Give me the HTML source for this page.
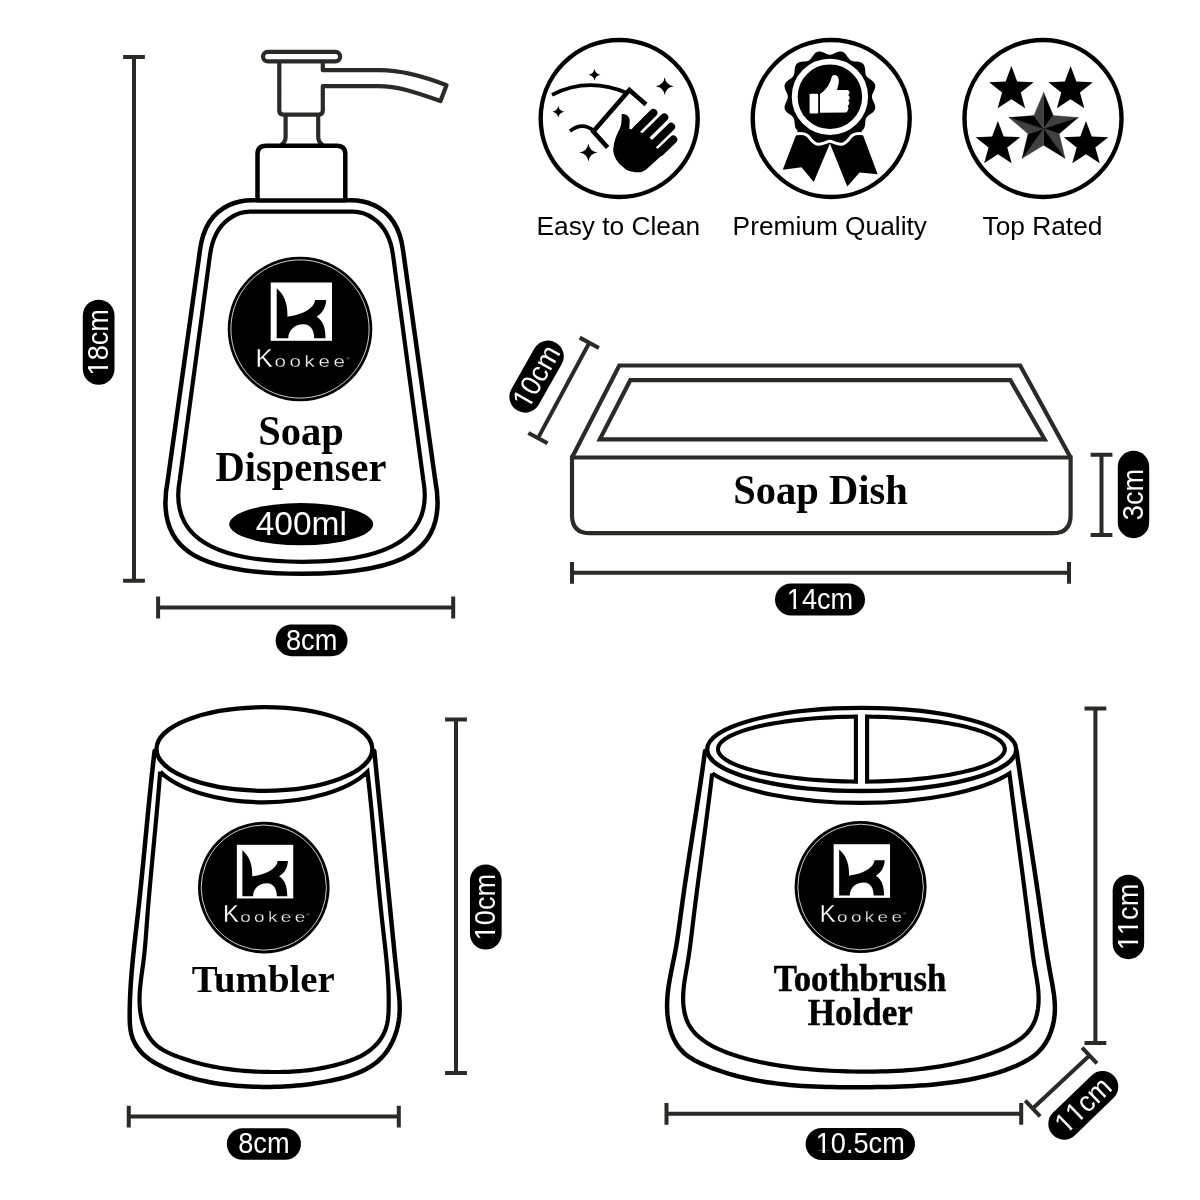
<!DOCTYPE html>
<html lang="en"><head><meta charset="utf-8"><title>Kookee bathroom set dimensions</title>
<style>html,body{margin:0;padding:0;background:#fff}body{width:1200px;height:1200px;overflow:hidden}svg{display:block;will-change:transform}text{font-variant-ligatures:none;font-feature-settings:"liga" 0,"clig" 0,"calt" 0,"dlig" 0}</style>
</head><body>
<svg width="1200" height="1200" viewBox="0 0 1200 1200">
<rect width="1200" height="1200" fill="#fff"/>
<g fill="none" stroke="#2b2a29" stroke-width="4.2" stroke-linejoin="round">
<rect x="263" y="51.8" width="77.2" height="9.6" rx="4.8"/>
<path d="M279.3 61.5 V110.5 Q279.3 114.6 283.4 114.6 H318.6 Q322.8 114.6 322.8 110.5 V86.2 H378 C398 86.2,415 92,440.5 101 L446.5 85.3 C420 75,400 70.2,380 70.2 H322.8 V61.5"/>
<path d="M285.6 114.6 V137 Q285.6 142 281 145"/>
<path d="M318.2 114.6 V137 Q318.2 142 322.8 145"/>
<path d="M257.5 200 V154.2 Q257.5 145.7 266 145.7 H336.8 Q345.3 145.7 345.3 154.2 V200" stroke="#000" stroke-width="4.5"/>
</g>
<path d="M301.5 200.4L257 200.4C255.5 200.4 207.2 194.5 200 250L167.8 480C154.17 549.27 196.6 573.7 301.5 573.7C406.4 573.7 448.83 549.27 435.2 480L403 250C395.8 194.5 347.5 200.4 346 200.4L301.5 200.4Z" fill="none" stroke="#000" stroke-width="4.5"/>
<path d="M301.5 211.6L250 211.6C243.5 211.6 215.2 215.3 210 255L179.7 480C173.14 516.28 183.55 561.8 301.5 561.8C419.45 561.8 429.86 516.28 423.3 480L393 255C387.8 215.3 359.5 211.6 353 211.6L301.5 211.6Z" fill="none" stroke="#000" stroke-width="4.2"/>
<g transform="translate(300 329)">
<circle r="72.3" fill="#000"/>
<circle r="69.1" fill="none" stroke="#fff" stroke-width="0.8"/>
<g transform="scale(1)">
<rect x="-29.3" y="-46.5" width="61.3" height="58.3" fill="#fff"/>
<path d="M-23.3 -40.7 L-23.3 9.3 L-11.7 9.3 C-11.7 1,-5 -4.8,3.3 -4.8 C11.7 -4.8,14.2 2.7,14.2 9.3 L25.5 9.3 C25.5 -0.7,23.3 -8.2,16.7 -12.3 C23.3 -16.5,25.8 -22.3,26.2 -29 L15 -29 C14.5 -20.5,1.5 -14,-12.5 -12.3 C-12.5 -24,-14.5 -33,-23.3 -40.7 Z" fill="#000"/>
<text transform="translate(-44.4 37.8) scale(1.32 1)" font-family="'Liberation Sans', Arial, sans-serif" fill="#fff" stroke="#000" stroke-width="0.3" style="paint-order:fill stroke"><tspan font-size="26" textLength="13.14" lengthAdjust="spacingAndGlyphs">K</tspan><tspan x="14.24" font-size="15.6" letter-spacing="2.75">ookee</tspan><tspan x="68.6" dy="-7.3" font-size="3.4" letter-spacing="0" fill="#bbb" stroke="none">®</tspan></text>
</g></g>
<g font-family="'Liberation Serif', 'Times New Roman', serif" font-weight="bold" font-size="40.5" text-anchor="middle" fill="#000">
<text transform="translate(301 445.2) scale(1 1.05)">Soap</text><text transform="translate(301 480.6) scale(1 1.05)">Dispenser</text>
<text transform="translate(820.5 504.2) scale(1 1.05)">Soap Dish</text>
<text x="263.2" y="991.8" font-size="38.8">Tumbler</text>
<text x="860" y="991.3" font-size="37" textLength="172.5" lengthAdjust="spacingAndGlyphs" stroke="#000" stroke-width="0.5">Toothbrush</text>
<text x="860.3" y="1024.8" font-size="37" textLength="105" lengthAdjust="spacingAndGlyphs" stroke="#000" stroke-width="0.5">Holder</text>
</g>
<ellipse cx="301.2" cy="524.2" rx="72" ry="21.1" fill="#000"/>
<text x="301.3" y="535.3" font-family="'Liberation Sans', Arial, sans-serif" font-size="33.5" fill="#fff" text-anchor="middle">400ml</text>
<path d="M134 56.9L134 580.8M144.9 56.9L123.1 56.9M144.9 580.8L123.1 580.8" fill="none" stroke="#2b2a29" stroke-width="4"/>
<g transform="translate(98.65 342.25) rotate(-90)">
<rect x="-42.55" y="-15.85" width="85.1" height="31.7" rx="15.85" fill="#000"/>
<g transform="scale(0.95 1)">
<text x="-34.97" y="9.3" font-family="'Liberation Sans', Arial, sans-serif" font-size="28.6" fill="#fff" style="font-kerning:none">18cm</text>
<rect x="-33.39" y="6.66" width="5.46" height="3.34" fill="#000"/>
<rect x="-25.1" y="6.66" width="5.24" height="3.34" fill="#000"/>
</g></g>
<path d="M158.1 607.5L453.2 607.5M158.1 596.6L158.1 618.4M453.2 596.6L453.2 618.4" fill="none" stroke="#2b2a29" stroke-width="4"/>
<g transform="translate(311.6 640.4) rotate(0)">
<rect x="-35.95" y="-15.85" width="71.9" height="31.7" rx="15.85" fill="#000"/>
<g transform="scale(0.95 1)">
<text x="-27.01" y="9.3" font-family="'Liberation Sans', Arial, sans-serif" font-size="28.6" fill="#fff" style="font-kerning:none">8cm</text>
</g></g>
<g fill="none" stroke="#2b2a29" stroke-width="4.2" stroke-linejoin="miter">
<path d="M572 457.5 L619.3 365.5 H1020.2 L1070.6 457.5"/>
<path d="M630.3 380.2 H1010.4 L1044.6 439.3 H599.8 Z"/>
<path d="M572 457.5 H1070.6 V515.2 Q1070.6 533.2 1052.6 533.2 H590 Q572 533.2 572 515.2 Z"/>
</g>
<path d="M589.3 342.8L538 438.1M598.9 347.97L579.7 337.63M547.6 443.27L528.4 432.93" fill="none" stroke="#2b2a29" stroke-width="4"/>
<g transform="translate(536.6 376.6) rotate(-60.5)">
<rect x="-39" y="-15.75" width="78" height="31.5" rx="15.75" fill="#000"/>
<g transform="scale(0.95 1)">
<text x="-34.97" y="9.3" font-family="'Liberation Sans', Arial, sans-serif" font-size="28.6" fill="#fff" style="font-kerning:none">10cm</text>
<rect x="-33.39" y="6.66" width="5.46" height="3.34" fill="#000"/>
<rect x="-25.1" y="6.66" width="5.24" height="3.34" fill="#000"/>
</g></g>
<path d="M1101.5 454.8L1101.5 535M1112.4 454.8L1090.6 454.8M1112.4 535L1090.6 535" fill="none" stroke="#2b2a29" stroke-width="4"/>
<g transform="translate(1133.5 494.5) rotate(-90)">
<rect x="-43.65" y="-15.7" width="87.3" height="31.4" rx="15.7" fill="#000"/>
<g transform="scale(0.95 1)">
<text x="-27.01" y="9.3" font-family="'Liberation Sans', Arial, sans-serif" font-size="28.6" fill="#fff" style="font-kerning:none">3cm</text>
</g></g>
<path d="M572 572.8L1069 572.8M572 561.9L572 583.7M1069 561.9L1069 583.7" fill="none" stroke="#2b2a29" stroke-width="4"/>
<g transform="translate(820 599.5) rotate(0)">
<rect x="-45" y="-16" width="90" height="32" rx="16" fill="#000"/>
<g transform="scale(0.95 1)">
<text x="-34.97" y="9.3" font-family="'Liberation Sans', Arial, sans-serif" font-size="28.6" fill="#fff" style="font-kerning:none">14cm</text>
<rect x="-33.39" y="6.66" width="5.46" height="3.34" fill="#000"/>
<rect x="-25.1" y="6.66" width="5.24" height="3.34" fill="#000"/>
</g></g>
<ellipse cx="264.4" cy="749" rx="107.9" ry="41.8" fill="none" stroke="#000" stroke-width="4.3"/>
<path d="M154.57 751.02L154.06 755.37L153.56 759.71L153.07 764.06L152.59 768.41L152.11 772.76L151.64 777.11L151.18 781.46L150.73 785.81L150.28 790.17L149.83 794.52L149.39 798.87L148.96 803.23L148.53 807.58L148.1 811.94L147.67 816.3L147.25 820.65L146.83 825.01L146.41 829.37L145.99 833.72L145.57 838.08L145.15 842.44L144.74 846.79L144.32 851.15L143.89 855.51L143.47 859.86L143.05 864.22L142.62 868.58L142.19 872.93L141.75 877.29L141.31 881.64L140.87 886L140.42 890.35L139.96 894.7L139.5 899.05L139.04 903.4L138.56 907.75L138.08 912.1L137.59 916.45L137.09 920.8L136.6 925.14L136.1 929.49L135.6 933.84L135.11 938.18L134.63 942.53L134.15 946.88L133.68 951.23L133.23 955.58L132.8 959.94L132.38 964.29L131.99 968.65L131.61 973.01L131.27 977.37L130.95 981.74L130.66 986.11L130.4 990.48L130.18 994.86L130 999.24L129.85 1003.63L129.75 1008.02L129.69 1012.42L129.68 1016.82L129.75 1021.22L129.99 1025.59L130.49 1029.9L131.34 1034.14L132.61 1038.28L134.37 1042.29L136.57 1046.12L139.15 1049.71L142.05 1053.03L145.24 1056.04L148.65 1058.75L152.26 1061.23L156.02 1063.49L159.89 1065.58L163.83 1067.53L167.82 1069.37L171.86 1071.1L175.93 1072.73L180.05 1074.24L184.21 1075.66L188.4 1076.98L192.62 1078.2L196.87 1079.32L201.15 1080.36L205.45 1081.31L209.77 1082.17L214.11 1082.95L218.46 1083.66L222.83 1084.28L227.2 1084.83L231.59 1085.31L235.97 1085.72L240.36 1086.07L244.75 1086.35L249.14 1086.58L253.51 1086.74L257.88 1086.86L262.24 1086.92L266.58 1086.93L270.91 1086.89L275.22 1086.8L279.53 1086.67L283.83 1086.48L288.13 1086.23L292.42 1085.93L296.72 1085.57L301.02 1085.16L305.33 1084.68L309.66 1084.15L313.99 1083.55L318.34 1082.88L322.71 1082.15L327.1 1081.36L331.51 1080.49L335.93 1079.54L340.34 1078.5L344.72 1077.35L349.05 1076.07L353.31 1074.66L357.48 1073.09L361.54 1071.36L365.48 1069.44L369.26 1067.33L372.88 1065L376.31 1062.45L379.54 1059.67L382.54 1056.62L385.3 1053.34L387.83 1049.82L390.12 1046.12L392.16 1042.24L393.97 1038.21L395.53 1034.06L396.85 1029.81L397.92 1025.48L398.74 1021.11L399.31 1016.72L399.63 1012.33L399.72 1007.94L399.62 1003.57L399.37 999.21L399 994.84L398.55 990.49L398.06 986.13L397.58 981.78L397.09 977.43L396.62 973.07L396.16 968.72L395.7 964.36L395.24 960.01L394.79 955.66L394.35 951.3L393.91 946.95L393.48 942.59L393.04 938.24L392.61 933.88L392.18 929.53L391.76 925.18L391.33 920.82L390.9 916.47L390.48 912.11L390.05 907.76L389.62 903.4L389.18 899.05L388.75 894.7L388.32 890.34L387.88 885.99L387.45 881.63L387.01 877.28L386.57 872.92L386.13 868.57L385.7 864.22L385.26 859.86L384.82 855.51L384.38 851.15L383.94 846.8L383.49 842.44L383.05 838.09L382.61 833.73L382.17 829.38L381.73 825.02L381.29 820.67L380.85 816.32L380.41 811.96L379.97 807.61L379.53 803.25L379.09 798.9L378.65 794.54L378.22 790.19L377.78 785.83L377.34 781.48L376.91 777.13L376.47 772.77L376.04 768.42L375.61 764.06L375.18 759.71L374.75 755.35L374.32 751" fill="none" stroke="#000" stroke-width="4.5" stroke-linejoin="round" stroke-linecap="round"/>
<path d="M160.18 771.71L159.88 775.64L159.57 779.57L159.25 783.5L158.93 787.43L158.6 791.36L158.27 795.3L157.93 799.23L157.58 803.16L157.23 807.09L156.88 811.03L156.52 814.96L156.16 818.89L155.8 822.83L155.43 826.76L155.07 830.7L154.7 834.63L154.33 838.57L153.96 842.5L153.58 846.44L153.21 850.37L152.84 854.3L152.47 858.24L152.1 862.17L151.73 866.11L151.37 870.04L151.01 873.98L150.65 877.91L150.29 881.84L149.94 885.78L149.59 889.71L149.25 893.64L148.91 897.58L148.58 901.51L148.25 905.44L147.93 909.37L147.61 913.3L147.31 917.23L147.01 921.16L146.72 925.09L146.43 929.02L146.14 932.95L145.84 936.88L145.53 940.81L145.2 944.75L144.84 948.68L144.46 952.61L144.03 956.54L143.56 960.48L143.05 964.42L142.51 968.36L141.96 972.3L141.42 976.24L140.92 980.18L140.47 984.13L140.08 988.08L139.78 992.03L139.6 995.98L139.53 999.93L139.62 1003.89L139.87 1007.84L140.3 1011.79L140.93 1015.72L141.76 1019.6L142.81 1023.4L144.08 1027.1L145.59 1030.68L147.35 1034.11L149.37 1037.36L151.65 1040.41L154.21 1043.24L157.06 1045.82L160.18 1048.14L163.54 1050.23L167.09 1052.13L170.78 1053.85L174.57 1055.43L178.4 1056.9L182.25 1058.28L186.1 1059.58L189.95 1060.8L193.8 1061.94L197.66 1063.01L201.51 1064.01L205.37 1064.93L209.23 1065.79L213.1 1066.59L216.96 1067.31L220.84 1067.98L224.71 1068.59L228.59 1069.14L232.47 1069.64L236.36 1070.08L240.26 1070.47L244.16 1070.81L248.06 1071.11L251.97 1071.36L255.89 1071.57L259.82 1071.73L263.75 1071.86L267.69 1071.96L271.63 1072.01L275.58 1072.02L279.53 1071.99L283.48 1071.92L287.44 1071.79L291.39 1071.61L295.35 1071.37L299.29 1071.08L303.24 1070.72L307.18 1070.31L311.11 1069.82L315.03 1069.27L318.95 1068.64L322.85 1067.94L326.74 1067.17L330.62 1066.31L334.48 1065.37L338.32 1064.35L342.15 1063.24L345.96 1062.03L349.74 1060.73L353.48 1059.31L357.16 1057.75L360.74 1056.03L364.21 1054.12L367.55 1052.01L370.74 1049.67L373.75 1047.08L376.55 1044.24L379.12 1041.18L381.41 1037.91L383.39 1034.47L385.03 1030.89L386.3 1027.2L387.23 1023.4L387.87 1019.54L388.29 1015.62L388.53 1011.66L388.65 1007.69L388.71 1003.72L388.72 999.76L388.68 995.8L388.58 991.84L388.45 987.89L388.27 983.94L388.05 979.99L387.8 976.05L387.51 972.11L387.19 968.18L386.85 964.25L386.49 960.31L386.1 956.38L385.69 952.46L385.28 948.53L384.84 944.6L384.4 940.68L383.96 936.75L383.51 932.83L383.06 928.91L382.62 924.98L382.18 921.06L381.75 917.13L381.33 913.2L380.92 909.28L380.51 905.35L380.11 901.42L379.72 897.49L379.33 893.56L378.94 889.63L378.57 885.7L378.19 881.77L377.82 877.83L377.45 873.9L377.09 869.97L376.72 866.04L376.36 862.11L376 858.17L375.64 854.24L375.28 850.31L374.92 846.38L374.56 842.44L374.2 838.51L373.84 834.58L373.47 830.65L373.1 826.71L372.73 822.78L372.36 818.85L371.98 814.92L371.6 810.99L371.21 807.06L370.82 803.13L370.42 799.2L370.02 795.27L369.6 791.34L369.18 787.42L368.76 783.49L368.32 779.57L367.88 775.64L367.43 771.72 A114.6 53.45 0 0 1 160.3 771.7" fill="none" stroke="#000" stroke-width="4.2" stroke-linejoin="miter"/>
<g transform="translate(263.8 887.6)">
<circle r="65.8" fill="#000"/>
<circle r="62.6" fill="none" stroke="#fff" stroke-width="0.8"/>
<g transform="scale(0.92)">
<rect x="-29.3" y="-46.5" width="61.3" height="58.3" fill="#fff"/>
<path d="M-23.3 -40.7 L-23.3 9.3 L-11.7 9.3 C-11.7 1,-5 -4.8,3.3 -4.8 C11.7 -4.8,14.2 2.7,14.2 9.3 L25.5 9.3 C25.5 -0.7,23.3 -8.2,16.7 -12.3 C23.3 -16.5,25.8 -22.3,26.2 -29 L15 -29 C14.5 -20.5,1.5 -14,-12.5 -12.3 C-12.5 -24,-14.5 -33,-23.3 -40.7 Z" fill="#000"/>
<text transform="translate(-44.4 37.8) scale(1.32 1)" font-family="'Liberation Sans', Arial, sans-serif" fill="#fff" stroke="#000" stroke-width="0.3" style="paint-order:fill stroke"><tspan font-size="26" textLength="13.14" lengthAdjust="spacingAndGlyphs">K</tspan><tspan x="14.24" font-size="15.6" letter-spacing="2.75">ookee</tspan><tspan x="68.6" dy="-7.3" font-size="3.4" letter-spacing="0" fill="#bbb" stroke="none">®</tspan></text>
</g></g>
<path d="M456 719.5L456 1073M466.9 719.5L445.1 719.5M466.9 1073L445.1 1073" fill="none" stroke="#2b2a29" stroke-width="4"/>
<g transform="translate(485.8 907.05) rotate(-90)">
<rect x="-42.55" y="-15.85" width="85.1" height="31.7" rx="15.85" fill="#000"/>
<g transform="scale(0.95 1)">
<text x="-34.97" y="9.3" font-family="'Liberation Sans', Arial, sans-serif" font-size="28.6" fill="#fff" style="font-kerning:none">10cm</text>
<rect x="-33.39" y="6.66" width="5.46" height="3.34" fill="#000"/>
<rect x="-25.1" y="6.66" width="5.24" height="3.34" fill="#000"/>
</g></g>
<path d="M128.75 1116.6L398.8 1116.6M128.75 1105.7L128.75 1127.5M398.8 1105.7L398.8 1127.5" fill="none" stroke="#2b2a29" stroke-width="4"/>
<g transform="translate(263.9 1144) rotate(0)">
<rect x="-37.05" y="-15.8" width="74.1" height="31.6" rx="15.8" fill="#000"/>
<g transform="scale(0.95 1)">
<text x="-27.01" y="9.3" font-family="'Liberation Sans', Arial, sans-serif" font-size="28.6" fill="#fff" style="font-kerning:none">8cm</text>
</g></g>
<ellipse cx="861.7" cy="749.4" rx="154.5" ry="41.6" fill="none" stroke="#000" stroke-width="4.3"/>
<path d="M855.9 716.62L849.63 716.71L843.39 716.86L837.18 717.07L831.02 717.34L824.91 717.67L818.88 718.06L812.92 718.51L807.06 719.02L801.31 719.59L795.66 720.22L790.15 720.9L784.77 721.63L779.54 722.42L774.46 723.25L769.56 724.14L764.82 725.08L760.28 726.06L755.92 727.08L751.77 728.15L747.83 729.26L744.11 730.4L740.61 731.58L737.34 732.8L734.31 734.05L731.53 735.32L728.99 736.62L726.71 737.95L724.68 739.29L722.92 740.66L721.42 742.04L720.19 743.44L719.24 744.84L718.55 746.26L718.14 747.68L718 749.1L718.14 750.52L718.55 751.94L719.24 753.36L720.19 754.76L721.42 756.16L722.92 757.54L724.68 758.91L726.71 760.25L728.99 761.58L731.53 762.88L734.31 764.15L737.34 765.4L740.61 766.62L744.11 767.8L747.83 768.94L751.77 770.05L755.92 771.12L760.28 772.14L764.82 773.12L769.56 774.06L774.46 774.95L779.54 775.78L784.77 776.57L790.15 777.3L795.66 777.98L801.31 778.61L807.06 779.18L812.92 779.69L818.88 780.14L824.91 780.53L831.02 780.86L837.18 781.13L843.39 781.34L849.63 781.49L855.9 781.58Z M867.1 716.63L873.36 716.71L879.6 716.86L885.8 717.07L891.96 717.35L898.05 717.68L904.08 718.07L910.03 718.53L915.88 719.04L921.63 719.61L927.26 720.23L932.77 720.91L938.14 721.65L943.36 722.43L948.43 723.27L953.33 724.16L958.06 725.09L962.6 726.07L966.94 727.1L971.09 728.17L975.02 729.27L978.74 730.42L982.23 731.6L985.49 732.81L988.52 734.06L991.3 735.33L993.83 736.63L996.11 737.96L998.13 739.3L999.89 740.67L1001.38 742.05L1002.61 743.44L1003.57 744.85L1004.25 746.26L1004.66 747.68L1004.8 749.1L1004.66 750.52L1004.25 751.94L1003.57 753.35L1002.61 754.76L1001.38 756.15L999.89 757.53L998.13 758.9L996.11 760.24L993.83 761.57L991.3 762.87L988.52 764.14L985.49 765.39L982.23 766.6L978.74 767.78L975.02 768.93L971.09 770.03L966.94 771.1L962.6 772.13L958.06 773.11L953.33 774.04L948.43 774.93L943.36 775.77L938.14 776.55L932.77 777.29L927.26 777.97L921.63 778.59L915.88 779.16L910.03 779.67L904.08 780.13L898.05 780.52L891.96 780.85L885.8 781.13L879.6 781.34L873.36 781.49L867.1 781.57Z" fill="none" stroke="#000" stroke-width="4.1" stroke-linejoin="miter"/>
<path d="M705.05 750.99L704.22 757.11L703.36 763.23L702.5 769.35L701.61 775.47L700.71 781.59L699.8 787.71L698.88 793.82L697.95 799.94L697.01 806.05L696.07 812.17L695.12 818.28L694.17 824.39L693.21 830.51L692.26 836.62L691.31 842.73L690.36 848.85L689.41 854.96L688.48 861.08L687.55 867.19L686.62 873.31L685.71 879.43L684.81 885.54L683.93 891.66L683.06 897.78L682.21 903.91L681.37 910.03L680.55 916.15L679.75 922.28L678.92 928.41L678.06 934.53L677.13 940.64L676.13 946.75L675.01 952.85L673.8 958.93L672.54 965.02L671.3 971.11L670.12 977.2L669.06 983.3L668.17 989.42L667.51 995.57L667.13 1001.74L667.08 1007.94L667.42 1014.18L668.19 1020.42L669.43 1026.58L671.18 1032.56L673.46 1038.27L676.32 1043.62L679.79 1048.52L683.9 1052.89L688.64 1056.67L693.89 1059.96L699.49 1062.84L705.32 1065.41L711.22 1067.77L717.15 1069.95L723.11 1071.96L729.08 1073.81L735.07 1075.51L741.08 1077.06L747.11 1078.47L753.16 1079.75L759.22 1080.89L765.3 1081.92L771.4 1082.83L777.5 1083.63L783.62 1084.34L789.75 1084.94L795.89 1085.46L802.05 1085.9L808.21 1086.26L814.38 1086.55L820.56 1086.78L826.74 1086.95L832.93 1087.08L839.12 1087.16L845.32 1087.21L851.52 1087.23L857.73 1087.22L863.93 1087.2L870.13 1087.16L876.34 1087.1L882.54 1087.02L888.74 1086.9L894.94 1086.74L901.13 1086.53L907.31 1086.28L913.49 1085.97L919.66 1085.6L925.82 1085.15L931.97 1084.64L938.11 1084.04L944.24 1083.36L950.35 1082.59L956.45 1081.72L962.54 1080.75L968.61 1079.67L974.66 1078.47L980.69 1077.15L986.7 1075.7L992.69 1074.09L998.65 1072.31L1004.57 1070.34L1010.46 1068.16L1016.31 1065.75L1022.06 1063.08L1027.6 1060.07L1032.8 1056.65L1037.55 1052.76L1041.73 1048.33L1045.32 1043.41L1048.32 1038.08L1050.74 1032.41L1052.6 1026.49L1053.91 1020.4L1054.68 1014.22L1054.92 1008.03L1054.69 1001.85L1054.09 995.7L1053.22 989.56L1052.16 983.42L1051.02 977.3L1049.89 971.18L1048.81 965.06L1047.77 958.94L1046.76 952.82L1045.79 946.71L1044.85 940.59L1043.93 934.47L1043.02 928.36L1042.13 922.25L1041.25 916.13L1040.37 910.02L1039.49 903.91L1038.6 897.79L1037.71 891.68L1036.81 885.56L1035.9 879.44L1034.99 873.33L1034.07 867.21L1033.14 861.1L1032.21 854.98L1031.28 848.86L1030.35 842.74L1029.41 836.63L1028.48 830.51L1027.54 824.39L1026.6 818.28L1025.67 812.16L1024.74 806.04L1023.81 799.93L1022.88 793.81L1021.96 787.69L1021.05 781.58L1020.14 775.46L1019.23 769.35L1018.34 763.23L1017.45 757.12L1016.57 751" fill="none" stroke="#000" stroke-width="4.5" stroke-linejoin="round" stroke-linecap="round"/>
<path d="M712.22 773.61L711.56 779.06L710.88 784.52L710.2 789.97L709.51 795.43L708.81 800.89L708.11 806.35L707.4 811.81L706.68 817.26L705.96 822.72L705.24 828.18L704.52 833.64L703.79 839.11L703.06 844.57L702.33 850.03L701.61 855.49L700.88 860.95L700.16 866.41L699.44 871.87L698.72 877.33L698 882.79L697.3 888.25L696.59 893.71L695.89 899.17L695.21 904.62L694.52 910.08L693.85 915.54L693.19 920.99L692.53 926.45L691.88 931.9L691.23 937.35L690.55 942.81L689.83 948.26L689.07 953.71L688.24 959.17L687.33 964.63L686.37 970.09L685.42 975.55L684.54 981.03L683.82 986.52L683.31 992.04L683.09 997.57L683.23 1003.13L683.78 1008.7L684.82 1014.17L686.41 1019.41L688.6 1024.33L691.42 1028.83L694.79 1032.96L698.64 1036.71L702.91 1040.13L707.52 1043.23L712.4 1046.04L717.47 1048.58L722.67 1050.88L727.93 1052.96L733.2 1054.84L738.48 1056.55L743.77 1058.09L749.07 1059.5L754.4 1060.78L759.74 1061.96L765.09 1063.06L770.47 1064.08L775.87 1065.02L781.28 1065.88L786.71 1066.68L792.15 1067.41L797.61 1068.06L803.07 1068.66L808.55 1069.19L814.04 1069.66L819.53 1070.07L825.03 1070.43L830.54 1070.74L836.05 1070.99L841.57 1071.2L847.09 1071.36L852.61 1071.48L858.13 1071.56L863.64 1071.6L869.16 1071.6L874.67 1071.55L880.18 1071.46L885.69 1071.32L891.19 1071.13L896.68 1070.88L902.17 1070.57L907.65 1070.19L913.12 1069.74L918.58 1069.22L924.04 1068.63L929.49 1067.95L934.92 1067.2L940.35 1066.35L945.76 1065.42L951.16 1064.39L956.55 1063.26L961.92 1062.03L967.28 1060.69L972.62 1059.25L977.95 1057.69L983.27 1056.01L988.56 1054.22L993.84 1052.3L999.09 1050.25L1004.29 1048.05L1009.34 1045.64L1014.2 1043L1018.79 1040.07L1023.04 1036.82L1026.88 1033.21L1030.25 1029.18L1033.07 1024.71L1035.28 1019.75L1036.89 1014.4L1037.96 1008.8L1038.52 1003.11L1038.63 997.46L1038.38 991.88L1037.83 986.36L1037.07 980.88L1036.17 975.43L1035.21 970L1034.27 964.58L1033.43 959.16L1032.69 953.74L1031.99 948.3L1031.29 942.86L1030.6 937.41L1029.92 931.95L1029.23 926.48L1028.54 921.02L1027.85 915.55L1027.16 910.08L1026.46 904.62L1025.76 899.15L1025.06 893.69L1024.35 888.23L1023.64 882.77L1022.93 877.31L1022.22 871.85L1021.5 866.39L1020.79 860.93L1020.07 855.48L1019.35 850.02L1018.64 844.56L1017.92 839.11L1017.2 833.65L1016.49 828.19L1015.77 822.74L1015.06 817.28L1014.34 811.82L1013.63 806.36L1012.93 800.9L1012.22 795.44L1011.52 789.98L1010.82 784.52L1010.12 779.06L1009.43 773.59 A166 53 0 0 1 712.3 773.6" fill="none" stroke="#000" stroke-width="4.2" stroke-linejoin="miter"/>
<g transform="translate(860.6 887)">
<circle r="66" fill="#000"/>
<circle r="62.8" fill="none" stroke="#fff" stroke-width="0.8"/>
<g transform="scale(0.92)">
<rect x="-29.3" y="-46.5" width="61.3" height="58.3" fill="#fff"/>
<path d="M-23.3 -40.7 L-23.3 9.3 L-11.7 9.3 C-11.7 1,-5 -4.8,3.3 -4.8 C11.7 -4.8,14.2 2.7,14.2 9.3 L25.5 9.3 C25.5 -0.7,23.3 -8.2,16.7 -12.3 C23.3 -16.5,25.8 -22.3,26.2 -29 L15 -29 C14.5 -20.5,1.5 -14,-12.5 -12.3 C-12.5 -24,-14.5 -33,-23.3 -40.7 Z" fill="#000"/>
<text transform="translate(-44.4 37.8) scale(1.32 1)" font-family="'Liberation Sans', Arial, sans-serif" fill="#fff" stroke="#000" stroke-width="0.3" style="paint-order:fill stroke"><tspan font-size="26" textLength="13.14" lengthAdjust="spacingAndGlyphs">K</tspan><tspan x="14.24" font-size="15.6" letter-spacing="2.75">ookee</tspan><tspan x="68.6" dy="-7.3" font-size="3.4" letter-spacing="0" fill="#bbb" stroke="none">®</tspan></text>
</g></g>
<path d="M1095.4 708.5L1095.4 1042.9M1106.3 708.5L1084.5 708.5M1106.3 1042.9L1084.5 1042.9" fill="none" stroke="#2b2a29" stroke-width="4"/>
<g transform="translate(1128.4 916.9) rotate(-90)">
<rect x="-42.25" y="-15.75" width="84.5" height="31.5" rx="15.75" fill="#000"/>
<g transform="scale(0.95 1)">
<text x="-34.97" y="9.3" font-family="'Liberation Sans', Arial, sans-serif" font-size="28.6" fill="#fff" style="font-kerning:none">11cm</text>
<rect x="-33.39" y="6.66" width="5.46" height="3.34" fill="#000"/>
<rect x="-25.1" y="6.66" width="5.24" height="3.34" fill="#000"/>
<rect x="-17.48" y="6.66" width="5.46" height="3.34" fill="#000"/>
<rect x="-9.19" y="6.66" width="5.24" height="3.34" fill="#000"/>
</g></g>
<path d="M666.5 1113.8L1021.2 1113.8M666.5 1102.9L666.5 1124.7M1021.2 1102.9L1021.2 1124.7" fill="none" stroke="#2b2a29" stroke-width="4"/>
<g transform="translate(860.3 1144) rotate(0)">
<rect x="-54.7" y="-15.95" width="109.4" height="31.9" rx="15.95" fill="#000"/>
<g transform="scale(0.95 1)">
<text x="-46.89" y="9.3" font-family="'Liberation Sans', Arial, sans-serif" font-size="28.6" fill="#fff" style="font-kerning:none">10.5cm</text>
<rect x="-45.32" y="6.66" width="5.46" height="3.34" fill="#000"/>
<rect x="-37.02" y="6.66" width="5.24" height="3.34" fill="#000"/>
</g></g>
<path d="M1032.7 1108.5L1089.5 1055.5M1025.26 1100.53L1040.14 1116.47M1082.06 1047.53L1096.94 1063.47" fill="none" stroke="#2b2a29" stroke-width="4"/>
<g transform="translate(1083.3 1105.3) rotate(-44)">
<rect x="-42.5" y="-15.75" width="85" height="31.5" rx="15.75" fill="#000"/>
<g transform="scale(0.95 1)">
<text x="-34.97" y="9.3" font-family="'Liberation Sans', Arial, sans-serif" font-size="28.6" fill="#fff" style="font-kerning:none">11cm</text>
<rect x="-33.39" y="6.66" width="5.46" height="3.34" fill="#000"/>
<rect x="-25.1" y="6.66" width="5.24" height="3.34" fill="#000"/>
<rect x="-17.48" y="6.66" width="5.46" height="3.34" fill="#000"/>
<rect x="-9.19" y="6.66" width="5.24" height="3.34" fill="#000"/>
</g></g>
<g fill="none" stroke="#000" stroke-width="4.4">
<circle cx="619.2" cy="118.5" r="78.5"/><circle cx="831.2" cy="118.5" r="78.5"/><circle cx="1043" cy="118.5" r="78.5"/>
</g>
<g font-family="'Liberation Sans', Arial, sans-serif" font-size="26.3" text-anchor="middle" fill="#000">
<text x="618.4" y="234.8">Easy to Clean</text><text x="829.8" y="234.8">Premium Quality</text><text x="1042.5" y="234.8">Top Rated</text>
</g>
<g fill="none" stroke="#000" stroke-width="3.6">
<path d="M552 94.8 Q588 76.5 627 93"/>
<path d="M570 131.2 Q582 121.5 593.5 130.5"/>
<path d="M646 104.5 L629.4 90 L593.3 131.5 L607.6 147.5" stroke-width="4.6"/>
</g>
<path d="M594.5 68.7Q595.27 73.93 600.5 74.7Q595.27 75.47 594.5 80.7Q593.73 75.47 588.5 74.7Q593.73 73.93 594.5 68.7Z" fill="#000"/>
<path d="M664.7 77.3Q665.86 85.14 673.7 86.3Q665.86 87.46 664.7 95.3Q663.54 87.46 655.7 86.3Q663.54 85.14 664.7 77.3Z" fill="#000"/>
<path d="M558.3 105.8Q559.07 111.03 564.3 111.8Q559.07 112.57 558.3 117.8Q557.53 112.57 552.3 111.8Q557.53 111.03 558.3 105.8Z" fill="#000"/>
<path d="M588.4 143.5Q589.56 151.34 597.4 152.5Q589.56 153.66 588.4 161.5Q587.24 153.66 579.4 152.5Q587.24 151.34 588.4 143.5Z" fill="#000"/>
<g stroke="#000" stroke-width="8" stroke-linecap="round" fill="none">
<path d="M635.6 130.6 L653.4 112.9"/><path d="M646 135.3 L664.3 117.4"/><path d="M654 143.6 L671.1 126.8"/><path d="M660.3 152 L673.3 139.6"/>
</g>
<path d="M621.75 114.1 C624.5 113.6,629.8 115.5,629.7 120.5 L629.3 128.8 L640.5 131.9 L651 138.7 L656.8 148.6 L666.5 151 L646.5 169.3 C643 172,640 172.5,637.5 172.3 C631 172,627 170.5,624.75 168.5 C619 164,616 160,615 157.3 C613 152,613 149,613.5 147.5 C614 142,615.5 138,617.25 134 C619 130,620.3 128,621 125 C621.8 121,621.5 117,621.75 114.1Z" fill="#000"/>
<path d="M798.6 128.5 L782.75 169.8 L801.5 167.2 L813.75 182.1 L829.9 143.6 L847.3 186.6 L859.6 172.4 L877.7 174.3 L860.5 128.5 Z" fill="#000"/>
<path d="M793.5 133.5 C800 132.6,804.5 132.8,806.7 134.3 C809.5 136.2,810 138.2,812 140 C814.5 142.4,816 143.6,818 143.7 C820.5 143.8,822.5 143,824.7 142.3 C826.8 141.6,828 140.7,829.8 140.7 C831.6 140.7,832.8 141.6,834.9 142.3 C837.1 143,839.1 143.8,841.6 143.7 C843.6 143.6,845.1 142.4,847.6 140 C849.6 138.2,850.1 136.2,852.9 134.3 C855.1 132.8,859.6 132.6,866.1 133.5" fill="none" stroke="#fff" stroke-width="3" transform="translate(0 0.6)"/>
<polygon points="829.9,54.75 830.63,54.71 831.37,54.57 832.12,54.36 832.89,54.08 833.67,53.74 834.47,53.37 835.28,52.97 836.11,52.59 836.96,52.23 837.81,51.92 838.67,51.67 839.53,51.51 840.37,51.45 841.2,51.49 842,51.64 842.77,51.91 843.51,52.29 844.21,52.76 844.87,53.33 845.49,53.97 846.07,54.67 846.62,55.41 847.15,56.16 847.66,56.9 848.17,57.62 848.67,58.31 849.19,58.93 849.74,59.49 850.31,59.98 850.92,60.38 851.58,60.71 852.29,60.97 853.05,61.16 853.85,61.29 854.69,61.39 855.57,61.47 856.47,61.54 857.39,61.62 858.3,61.73 859.2,61.89 860.06,62.1 860.88,62.39 861.64,62.76 862.34,63.21 862.96,63.74 863.49,64.36 863.94,65.06 864.31,65.82 864.6,66.64 864.81,67.5 864.97,68.4 865.08,69.31 865.16,70.23 865.23,71.13 865.31,72.01 865.41,72.85 865.54,73.65 865.73,74.41 865.99,75.12 866.32,75.77 866.72,76.39 867.21,76.96 867.77,77.51 868.39,78.03 869.08,78.53 869.8,79.04 870.54,79.55 871.29,80.08 872.03,80.63 872.73,81.21 873.37,81.83 873.94,82.49 874.41,83.19 874.79,83.93 875.06,84.7 875.21,85.5 875.25,86.33 875.19,87.17 875.03,88.03 874.78,88.89 874.47,89.74 874.11,90.59 873.73,91.42 873.33,92.23 872.96,93.03 872.62,93.81 872.34,94.58 872.13,95.33 871.99,96.07 871.95,96.8 871.99,97.53 872.13,98.27 872.34,99.02 872.62,99.79 872.96,100.57 873.33,101.37 873.73,102.18 874.11,103.01 874.47,103.86 874.78,104.71 875.03,105.57 875.19,106.43 875.25,107.27 875.21,108.1 875.06,108.9 874.79,109.67 874.41,110.41 873.94,111.11 873.37,111.77 872.73,112.39 872.03,112.97 871.29,113.52 870.54,114.05 869.8,114.56 869.08,115.07 868.39,115.57 867.77,116.09 867.21,116.64 866.72,117.21 866.32,117.82 865.99,118.48 865.73,119.19 865.54,119.95 865.41,120.75 865.31,121.59 865.23,122.47 865.16,123.37 865.08,124.29 864.97,125.2 864.81,126.1 864.6,126.96 864.31,127.78 863.94,128.54 863.49,129.24 862.96,129.86 862.34,130.39 861.64,130.84 860.88,131.21 860.06,131.5 859.2,131.71 858.3,131.87 857.39,131.98 856.47,132.06 855.57,132.13 854.69,132.21 853.85,132.31 853.05,132.44 852.29,132.63 851.58,132.89 850.92,133.22 850.31,133.62 849.74,134.11 849.19,134.67 848.67,135.29 848.17,135.98 847.66,136.7 847.15,137.44 846.62,138.19 846.07,138.93 845.49,139.63 844.87,140.27 844.21,140.84 843.51,141.31 842.77,141.69 842,141.96 841.2,142.11 840.37,142.15 839.53,142.09 838.67,141.93 837.81,141.68 836.96,141.37 836.11,141.01 835.28,140.63 834.47,140.23 833.67,139.86 832.89,139.52 832.12,139.24 831.37,139.03 830.63,138.89 829.9,138.85 829.17,138.89 828.43,139.03 827.68,139.24 826.91,139.52 826.13,139.86 825.33,140.23 824.52,140.63 823.69,141.01 822.84,141.37 821.99,141.68 821.13,141.93 820.27,142.09 819.43,142.15 818.6,142.11 817.8,141.96 817.03,141.69 816.29,141.31 815.59,140.84 814.93,140.27 814.31,139.63 813.73,138.93 813.18,138.19 812.65,137.44 812.14,136.7 811.63,135.98 811.13,135.29 810.61,134.67 810.06,134.11 809.49,133.62 808.88,133.22 808.22,132.89 807.51,132.63 806.75,132.44 805.95,132.31 805.11,132.21 804.23,132.13 803.33,132.06 802.41,131.98 801.5,131.87 800.6,131.71 799.74,131.5 798.92,131.21 798.16,130.84 797.46,130.39 796.84,129.86 796.31,129.24 795.86,128.54 795.49,127.78 795.2,126.96 794.99,126.1 794.83,125.2 794.72,124.29 794.64,123.37 794.57,122.47 794.49,121.59 794.39,120.75 794.26,119.95 794.07,119.19 793.81,118.48 793.48,117.83 793.08,117.21 792.59,116.64 792.03,116.09 791.41,115.57 790.72,115.07 790,114.56 789.26,114.05 788.51,113.52 787.77,112.97 787.07,112.39 786.43,111.77 785.86,111.11 785.39,110.41 785.01,109.67 784.74,108.9 784.59,108.1 784.55,107.27 784.61,106.43 784.77,105.57 785.02,104.71 785.33,103.86 785.69,103.01 786.07,102.18 786.47,101.37 786.84,100.57 787.18,99.79 787.46,99.02 787.67,98.27 787.81,97.53 787.85,96.8 787.81,96.07 787.67,95.33 787.46,94.58 787.18,93.81 786.84,93.03 786.47,92.23 786.07,91.42 785.69,90.59 785.33,89.74 785.02,88.89 784.77,88.03 784.61,87.17 784.55,86.33 784.59,85.5 784.74,84.7 785.01,83.93 785.39,83.19 785.86,82.49 786.43,81.83 787.07,81.21 787.77,80.63 788.51,80.08 789.26,79.55 790,79.04 790.72,78.53 791.41,78.03 792.03,77.51 792.59,76.96 793.08,76.39 793.48,75.77 793.81,75.12 794.07,74.41 794.26,73.65 794.39,72.85 794.49,72.01 794.57,71.13 794.64,70.23 794.72,69.31 794.83,68.4 794.99,67.5 795.2,66.64 795.49,65.82 795.86,65.06 796.31,64.36 796.84,63.74 797.46,63.21 798.16,62.76 798.92,62.39 799.74,62.1 800.6,61.89 801.5,61.73 802.41,61.62 803.33,61.54 804.23,61.47 805.11,61.39 805.95,61.29 806.75,61.16 807.51,60.97 808.22,60.71 808.88,60.38 809.49,59.98 810.06,59.49 810.61,58.93 811.13,58.31 811.63,57.62 812.14,56.9 812.65,56.16 813.18,55.41 813.73,54.67 814.31,53.97 814.93,53.33 815.59,52.76 816.29,52.29 817.03,51.91 817.8,51.64 818.6,51.49 819.43,51.45 820.27,51.51 821.13,51.67 821.99,51.92 822.84,52.23 823.69,52.59 824.52,52.97 825.33,53.37 826.13,53.74 826.91,54.08 827.68,54.36 828.43,54.57 829.17,54.71" fill="#000"/>
<circle cx="829.9" cy="96.8" r="35.2" fill="none" stroke="#fff" stroke-width="5.9"/>
<rect x="809.6" y="93.8" width="8.6" height="19.6" rx="1.2" fill="#fff"/>
<path d="M820 94 C826 90,830 84,831.5 77.5 C833 73.5,838.5 74.5,838.8 80 C839 84,837.5 87.5,837 90 H847 C850 90,850.3 94.2,848 95 C850.3 96,850.3 99.8,848 100.6 C850 101.6,849.8 105.2,847.5 106 C849.2 107.2,848.6 111,846 112.6 L820 112.8 Z" fill="#fff"/>
<polygon points="1011.4,66 1017.18,81.45 1033.65,82.17 1020.75,92.44 1025.15,108.33 1011.4,99.23 997.65,108.33 1002.05,92.44 989.15,82.17 1005.62,81.45" fill="#000"/>
<polygon points="1070.6,66 1076.38,81.45 1092.85,82.17 1079.95,92.44 1084.35,108.33 1070.6,99.23 1056.85,108.33 1061.25,92.44 1048.35,82.17 1064.82,81.45" fill="#000"/>
<polygon points="997.9,121 1003.68,136.45 1020.15,137.17 1007.25,147.44 1011.65,163.33 997.9,154.23 984.15,163.33 988.55,147.44 975.65,137.17 992.12,136.45" fill="#000"/>
<polygon points="1086,121 1091.78,136.45 1108.25,137.17 1095.35,147.44 1099.75,163.33 1086,154.23 1072.25,163.33 1076.65,147.44 1063.75,137.17 1080.22,136.45" fill="#000"/>
<polygon points="1043.6,128.8 1043.6,92.4 1053.23,115.55" fill="#000"/>
<polygon points="1043.6,128.8 1043.6,92.4 1053.23,115.55" fill="none" stroke="#000" stroke-width="0.4"/>
<polygon points="1043.6,128.8 1053.23,115.55 1078.22,117.55" fill="#404040"/>
<polygon points="1043.6,128.8 1053.23,115.55 1078.22,117.55" fill="none" stroke="#404040" stroke-width="0.4"/>
<polygon points="1043.6,128.8 1078.22,117.55 1059.18,133.86" fill="#000"/>
<polygon points="1043.6,128.8 1078.22,117.55 1059.18,133.86" fill="none" stroke="#000" stroke-width="0.4"/>
<polygon points="1043.6,128.8 1059.18,133.86 1065,158.25" fill="#404040"/>
<polygon points="1043.6,128.8 1059.18,133.86 1065,158.25" fill="none" stroke="#404040" stroke-width="0.4"/>
<polygon points="1043.6,128.8 1065,158.25 1043.6,145.18" fill="#000"/>
<polygon points="1043.6,128.8 1065,158.25 1043.6,145.18" fill="none" stroke="#000" stroke-width="0.4"/>
<polygon points="1043.6,128.8 1043.6,145.18 1022.2,158.25" fill="#404040"/>
<polygon points="1043.6,128.8 1043.6,145.18 1022.2,158.25" fill="none" stroke="#404040" stroke-width="0.4"/>
<polygon points="1043.6,128.8 1022.2,158.25 1028.02,133.86" fill="#000"/>
<polygon points="1043.6,128.8 1022.2,158.25 1028.02,133.86" fill="none" stroke="#000" stroke-width="0.4"/>
<polygon points="1043.6,128.8 1028.02,133.86 1008.98,117.55" fill="#404040"/>
<polygon points="1043.6,128.8 1028.02,133.86 1008.98,117.55" fill="none" stroke="#404040" stroke-width="0.4"/>
<polygon points="1043.6,128.8 1008.98,117.55 1033.97,115.55" fill="#000"/>
<polygon points="1043.6,128.8 1008.98,117.55 1033.97,115.55" fill="none" stroke="#000" stroke-width="0.4"/>
<polygon points="1043.6,128.8 1033.97,115.55 1043.6,92.4" fill="#404040"/>
<polygon points="1043.6,128.8 1033.97,115.55 1043.6,92.4" fill="none" stroke="#404040" stroke-width="0.4"/>
</svg></body></html>
